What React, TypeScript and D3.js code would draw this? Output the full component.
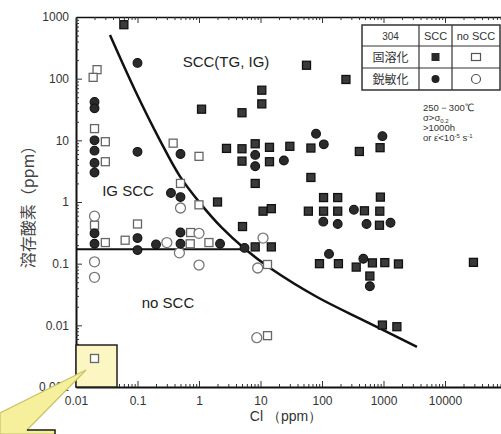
import React, { useEffect, useRef } from 'react'
import * as d3 from 'd3'

const W = 501, H = 434
const FONT = '"Liberation Sans", Arial, sans-serif'
const CJK = '"Noto Sans CJK JP", sans-serif'

// [Cl (ppm), 溶存酸素 (ppm)]
// 固溶化 SCC ■
const solutionScc: [number, number][] = [
  [0.06, 750], [1.1, 32], [5, 28], [2.8, 7.4], [5, 7.3], [5, 4.6], [2, 1.0], [5.1, 0.4],
  [8.2, 8.8], [14, 7.7], [30, 8], [14, 4.5], [8.2, 2.0], [10.5, 65], [10.5, 39], [56, 165],
  [245, 97], [66, 7.5], [66, 2.5], [405, 6.6], [880, 7.6], [11, 0.71], [15, 0.78], [8.2, 0.187],
  [15, 0.187], [60, 0.71], [106, 0.71], [180, 0.71], [490, 0.72], [870, 0.71], [106, 1.18],
  [180, 1.18], [890, 1.2], [860, 0.42], [91, 0.1], [185, 0.1], [360, 0.088], [660, 0.103],
  [1050, 0.104], [1750, 0.099], [600, 0.063], [960, 0.0101], [1650, 0.0095], [29000, 0.105],
]
// 鋭敏化 SCC ●
const sensitizedScc: [number, number][] = [
  [0.1, 180], [0.02, 42], [0.02, 33], [0.02, 10], [0.02, 6.8], [0.02, 4.3], [0.02, 3.0],
  [0.1, 6.5], [0.5, 6.0], [0.35, 1.4], [0.5, 1.2], [0.02, 0.31], [0.02, 0.21], [0.1, 0.26],
  [0.1, 0.166], [0.2, 0.205], [0.5, 0.32], [0.5, 0.21], [2.2, 0.21], [5.5, 0.18], [8.2, 5.8],
  [8.2, 3.8], [24, 4.7], [80, 12.8], [107, 8.6], [960, 11.7], [330, 0.75], [105, 0.48],
  [180, 0.44], [530, 0.44], [1300, 0.46], [130, 0.144], [470, 0.12], [600, 0.043],
]
// 固溶化 no SCC □
const solutionNoScc: [number, number][] = [
  [0.022, 140], [0.019, 105], [0.02, 15.5], [0.03, 9.5], [0.03, 4.5], [0.38, 9], [1.0, 5.5],
  [0.5, 2.0], [1.0, 0.9], [0.02, 0.42], [0.03, 0.22], [0.1, 0.44], [0.063, 0.24], [0.73, 0.32],
  [0.72, 0.21], [1.45, 0.22], [13, 0.097], [13, 0.0068], [0.02, 0.0029],
]
// 鋭敏化 no SCC ○
const sensitizedNoScc: [number, number][] = [
  [0.02, 0.59], [0.02, 0.107], [0.02, 0.06], [0.3, 0.22], [0.48, 0.15], [0.5, 0.8],
  [1.0, 0.31], [1.0, 0.095], [11, 0.26], [9, 0.085], [8.7, 0.0063],
]
// SCC / no SCC boundary
const boundaryCurve: [number, number][] = [
  [0.0357, 510], [0.091, 65], [0.232, 10], [0.49, 2.6], [1.04, 0.96], [2.37, 0.38],
  [5.6, 0.173], [14.3, 0.085], [83, 0.0288], [540, 0.0113], [3500, 0.00446],
]
const igLimit: [number, number][] = [[0.01, 0.172], [5.6, 0.172]]

const xTickLabels = ['0.01', '0.1', '1', '10', '100', '1000', '10000']
const yTickLabels = ['0.001', '0.01', '0.1', '1', '10', '100', '1000']
const legendCols = ['304', 'SCC', 'no SCC']
const legendRows = ['固溶化', '鋭敏化']

const isMajor = (v: number) => Math.abs(Math.log10(v) - Math.round(Math.log10(v))) < 1e-6

export default function App() {
  const ref = useRef<SVGSVGElement>(null)

  useEffect(() => {
    const svg = d3.select(ref.current)
    svg.selectAll('*').remove()

    const x = d3.scaleLog().domain([0.01, 1e5]).range([76, 506.5])
    const y = d3.scaleLog().domain([0.001, 1000]).range([387, 17])

    svg.append('rect').attr('width', W).attr('height', H).attr('fill', '#fff')

    // axes
    const yAx = svg.append('g').attr('transform', 'translate(76,0)')
      .call(d3.axisLeft(y).tickValues(y.ticks()).tickSizeInner(-3).tickSizeOuter(0).tickPadding(7)
        .tickFormat((d: any) => isMajor(d) ? yTickLabels[Math.round(Math.log10(d)) + 3] : ''))
    yAx.selectAll('.tick line').attr('x2', (d: any) => isMajor(d) ? 6 : 3).attr('stroke', '#333')
    yAx.select('.domain').attr('stroke', '#111').attr('stroke-width', 2)
    yAx.selectAll('text').attr('font-family', FONT).attr('font-size', 12).attr('fill', '#333')

    const xAx = svg.append('g').attr('transform', 'translate(0,387)')
      .call(d3.axisBottom(x).tickValues(x.ticks()).tickSizeInner(-3).tickSizeOuter(0).tickPadding(9)
        .tickFormat((d: any) => isMajor(d) ? (xTickLabels[Math.round(Math.log10(d)) + 2] ?? '') : ''))
    xAx.selectAll('.tick line').attr('y2', (d: any) => isMajor(d) ? -6 : -3).attr('stroke', '#333')
    xAx.select('.domain').attr('stroke', '#111').attr('stroke-width', 2)
    xAx.selectAll('text').attr('font-family', FONT).attr('font-size', 12).attr('fill', '#333')

    const topAx = svg.append('g').attr('transform', 'translate(0,17)')
      .call(d3.axisTop(x).tickValues(x.ticks()).tickSizeInner(-3).tickSizeOuter(0).tickFormat(() => ''))
    topAx.selectAll('.tick line').attr('y2', (d: any) => isMajor(d) ? 6 : 3).attr('stroke', '#333')
    topAx.select('.domain').attr('stroke', '#111').attr('stroke-width', 1.5)

    // axis titles
    svg.append('text').attr('x', 286).attr('y', 421).attr('text-anchor', 'middle')
      .attr('font-family', FONT).attr('font-size', 14).attr('fill', '#333').text('Cl （ppm）')
    svg.append('text').attr('transform', 'translate(34,203) rotate(-90)').attr('text-anchor', 'middle')
      .attr('font-family', CJK).attr('font-size', 16).attr('fill', '#444')
      .text('溶存酸素（ppm）')

    // region labels
    const region = (t: string, px: number, py: number) =>
      svg.append('text').attr('x', px).attr('y', py).attr('text-anchor', 'middle')
        .attr('font-family', FONT).attr('font-size', 15).attr('fill', '#222').text(t)
    region('SCC(TG, IG)', 226, 67)
    region('IG SCC', 128, 196)
    region('no SCC', 168, 308)

    // boundary lines
    const line = d3.line<[number, number]>().x(d => x(d[0])).y(d => y(d[1]))
    svg.append('path').datum(boundaryCurve).attr('d', line.curve(d3.curveCatmullRom.alpha(0.5)))
      .attr('fill', 'none').attr('stroke', '#111').attr('stroke-width', 2.5)
    svg.append('path').datum(igLimit).attr('d', d3.line<[number, number]>().x(d => x(d[0])).y(d => y(d[1])))
      .attr('fill', 'none').attr('stroke', '#111').attr('stroke-width', 2)

    // highlight box
    svg.append('rect').attr('x', 76).attr('y', 345).attr('width', 41).attr('height', 42)
      .attr('fill', '#fbf6c2').attr('stroke', '#222').attr('stroke-width', 1.5)

    // markers
    const sq = (data: [number, number][], filled: boolean) =>
      svg.append('g').selectAll('rect').data(data).join('rect')
        .attr('x', d => x(d[0]) - 4).attr('y', d => y(d[1]) - 4)
        .attr('width', 8).attr('height', 8)
        .attr('fill', filled ? '#3a3a3a' : '#fff')
        .attr('stroke', filled ? '#111' : '#666').attr('stroke-width', 1.3)
    const ci = (data: [number, number][], filled: boolean) =>
      svg.append('g').selectAll('circle').data(data).join('circle')
        .attr('cx', d => x(d[0])).attr('cy', d => y(d[1])).attr('r', filled ? 4.4 : 5)
        .attr('fill', filled ? '#2a2a2a' : '#fff')
        .attr('stroke', filled ? '#111' : '#777').attr('stroke-width', filled ? 1.1 : 1.3)
    sq(solutionNoScc, false)
    ci(sensitizedNoScc, false)
    sq(solutionScc, true)
    ci(sensitizedScc, true)

    // legend table
    const lx = [362, 419, 452, 500], ly = [25, 46, 68, 90]
    const lg = svg.append('g')
    lg.append('rect').attr('x', lx[0]).attr('y', ly[0]).attr('width', lx[3] - lx[0]).attr('height', ly[3] - ly[0])
      .attr('fill', '#fff').attr('stroke', '#333').attr('stroke-width', 1.5)
    lx.slice(1, 3).forEach(v => lg.append('line').attr('x1', v).attr('x2', v).attr('y1', ly[0]).attr('y2', ly[3])
      .attr('stroke', '#333').attr('stroke-width', 1.2))
    ly.slice(1, 3).forEach(v => lg.append('line').attr('x1', lx[0]).attr('x2', lx[3]).attr('y1', v).attr('y2', v)
      .attr('stroke', '#333').attr('stroke-width', 1.2))
    legendCols.forEach((c, i) => lg.append('text').attr('x', (lx[i] + lx[i + 1]) / 2).attr('y', 40)
      .attr('text-anchor', 'middle').attr('font-family', FONT).attr('font-size', i === 0 ? 10 : 11)
      .attr('fill', '#333').text(c))
    legendRows.forEach((r, i) => lg.append('text').attr('x', (lx[0] + lx[1]) / 2).attr('y', ly[i + 1] + 15.5)
      .attr('text-anchor', 'middle').attr('font-family', CJK).attr('font-size', 12)
      .attr('fill', '#333').text(r))
    const cy1 = (ly[1] + ly[2]) / 2, cy2 = (ly[2] + ly[3]) / 2
    const c2 = (lx[1] + lx[2]) / 2, c3 = (lx[2] + lx[3]) / 2
    lg.append('rect').attr('x', c2 - 4).attr('y', cy1 - 4).attr('width', 8).attr('height', 8).attr('fill', '#2a2a2a')
    lg.append('rect').attr('x', c3 - 4.5).attr('y', cy1 - 3.5).attr('width', 9).attr('height', 7)
      .attr('fill', '#fff').attr('stroke', '#555').attr('stroke-width', 1.2)
    lg.append('circle').attr('cx', c2).attr('cy', cy2).attr('r', 4).attr('fill', '#222')
    lg.append('circle').attr('cx', c3).attr('cy', cy2).attr('r', 4.5).attr('fill', '#fff')
      .attr('stroke', '#555').attr('stroke-width', 1.2)

    // test conditions
    const condLine = (py: number) => svg.append('text').attr('x', 423).attr('y', py)
      .attr('font-family', FONT).attr('font-size', 9.5).attr('fill', '#333')
    condLine(111).text('250－300℃')
    const s2 = condLine(121)
    s2.append('tspan').text('σ>σ')
    s2.append('tspan').attr('font-size', 6).attr('dy', 1.5).text('0.2')
    condLine(131).text('>1000h')
    const s4 = condLine(141)
    s4.append('tspan').text('or ε̇<10')
    s4.append('tspan').attr('font-size', 6).attr('dy', -3).text('-5')
    s4.append('tspan').attr('dy', 3).text(' s')
    s4.append('tspan').attr('font-size', 6).attr('dy', -3).text('-1')

    // callout pointer
    svg.append('path').attr('d', 'M86,370 L0,413 L0,434 L55,434 L55,430 L27,430 Z')
      .attr('fill', '#f6f09c').attr('stroke', '#c9c26a').attr('stroke-width', 1.2)
    svg.append('path').attr('d', 'M27,430 L55,430 L55,434').attr('fill', 'none')
      .attr('stroke', '#222').attr('stroke-width', 1.5)
  }, [])

  return <svg ref={ref} width={W} height={H} style={{ position: 'absolute', left: 0, top: 0 }} />
}
